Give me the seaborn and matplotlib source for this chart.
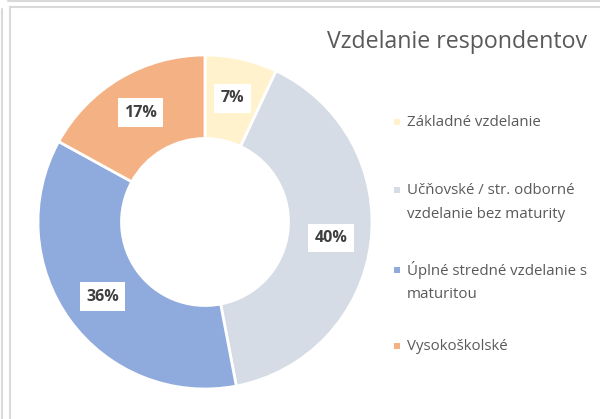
import matplotlib
matplotlib.use("Agg")
import matplotlib.pyplot as plt
import seaborn as sns
import numpy as np
from matplotlib.lines import Line2D
from matplotlib.patches import Rectangle

categories = ["Základné vzdelanie",
              "Učňovské / str. odborné\nvzdelanie bez maturity",
              "Úplné stredné vzdelanie s\nmaturitou",
              "Vysokoškolské"]
values = [7, 40, 36, 17]
colors = ["#FFF2CC", "#D6DCE5", "#8FAADC", "#F4B183"]
title = "Vzdelanie respondentov"

sns.set_theme(style="white")
plt.rcParams['font.family'] = ['Open Sans', 'DejaVu Sans']

W, H = 600, 419
fig = plt.figure(figsize=(6, 4.19), dpi=100)
fig.patch.set_facecolor("white")

cx, cy, R = 205, 222, 167
ax = fig.add_axes([(cx - R) / W, (H - cy - R) / H, 2 * R / W, 2 * R / H])
wedges, _ = ax.pie(values, colors=colors, startangle=90, counterclock=False,
                   radius=1.0, wedgeprops=dict(width=0.5, edgecolor="white", linewidth=2))
ax.set_xlim(-1, 1)
ax.set_ylim(-1, 1)
ax.set_aspect("equal")
ax.axis("off")

total = sum(values)
ang = 90.0
for v in values:
    mid = ang - v / total * 360 / 2
    ang -= v / total * 360
    r = 0.76
    ax.text(r * np.cos(np.radians(mid)), r * np.sin(np.radians(mid)), f"{v}%",
            ha="center", va="center", fontsize=11.5, fontweight="bold", color="#404040",
            bbox=dict(boxstyle="square,pad=0.4", fc="white", ec="none"))

fig.text(587 / W, 1 - 42 / H, title, ha="right", va="center", fontsize=16.7, color="#595959")

# legend (manual layout, Excel-like spacing)
leg_y = [122, 190, 270, 346]
line_gap = 24
for lab, col, y0 in zip(categories, colors, leg_y):
    fig.add_artist(Rectangle(((394) / W, 1 - (y0 + 3) / H), 6 / W, 6 / H,
                             transform=fig.transFigure, facecolor=col, edgecolor="none"))
    for i, line in enumerate(lab.split("\n")):
        fig.text(407 / W, 1 - (y0 + i * line_gap) / H, line, ha="left", va="center",
                 fontsize=10.8, color="#595959")

# frame lines
lc = "#D9D9D9"
fig.add_artist(Line2D([8 / W, 1], [1 - 1 / H, 1 - 1 / H], color=lc, lw=1.5))
fig.add_artist(Line2D([2 / W, 2 / W], [0, 1 - 9 / H], color=lc, lw=1.5))
fig.add_artist(Line2D([9.5 / W, 9.5 / W], [0, 1 - 7 / H], color=lc, lw=1.5))
fig.add_artist(Line2D([9.5 / W, 1], [1 - 7 / H, 1 - 7 / H], color=lc, lw=1.5))

fig.savefig("out.png", dpi=100, facecolor="white")
